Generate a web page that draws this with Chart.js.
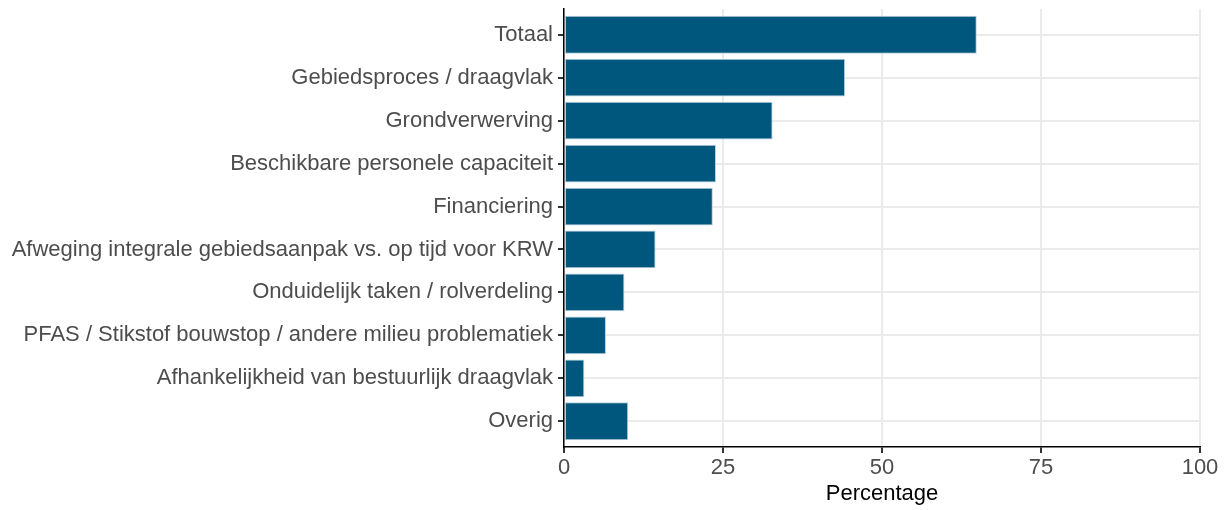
<!DOCTYPE html>
<html>
<head>
<meta charset="utf-8">
<script src="https://cdn.jsdelivr.net/npm/chart.js@4/dist/chart.umd.min.js"></script>
<style>
  body { margin: 0; background: #fff; }
  #wrap { width: 1230px; height: 510px; }
</style>
</head>
<body>
<div id="wrap"><canvas id="myChart" width="1230" height="510"></canvas></div>
<script>
var categories = [
    'Totaal',
    'Gebiedsproces / draagvlak',
    'Grondverwerving',
    'Beschikbare personele capaciteit',
    'Financiering',
    'Afweging integrale gebiedsaanpak vs. op tijd voor KRW',
    'Onduidelijk taken / rolverdeling',
    'PFAS / Stikstof bouwstop / andere milieu problematiek',
    'Afhankelijkheid van bestuurlijk draagvlak',
    'Overig'
];
var percentages = [64.9, 44.2, 32.8, 23.9, 23.4, 14.4, 9.5, 6.6, 3.2, 10.1];
var xTicks = [0, 25, 50, 75, 100];

var points = [];
percentages.forEach((v, i) => {
    points.push({ x: v, y: i });
});

var ctx = document.getElementById('myChart').getContext('2d');
var fontFamily = 'Liberation Sans, Arial, sans-serif';

var chart = new Chart(ctx, {
    type: 'bar',
    data: {
        datasets: [{
            label: 'Percentage',
            data: points,
            backgroundColor: '#00577e',
            borderColor: '#b9d0dd',
            borderWidth: 1,
            borderSkipped: false,
            barPercentage: 0.88,
            categoryPercentage: 1
        }]
    },
    options: {
        indexAxis: 'y',
        responsive: false,
        animation: false,
        layout: { padding: { top: 9, right: 30, left: 0, bottom: 0 } },
        plugins: {
            legend: { display: false },
            tooltip: { enabled: false }
        },
        scales: {
            x: {
                type: 'linear',
                min: 0,
                max: 100,
                afterBuildTicks: (scale) => {
                    scale.ticks = xTicks.map(v => ({ value: v }));
                },
                afterFit: (scale) => {
                    scale.height = 63;
                    scale.paddingLeft = 0;
                    scale.paddingRight = 0;
                },
                grid: {
                    color: '#ebebeb',
                    lineWidth: 2,
                    tickColor: '#333333',
                    tickLength: 6
                },
                border: { display: true, color: '#000000', width: 1.5 },
                ticks: {
                    color: '#4d4d4d',
                    padding: 2,
                    font: { family: fontFamily, size: 22 }
                },
                title: {
                    display: true,
                    text: 'Percentage',
                    color: '#000000',
                    padding: { top: 0, bottom: 3 },
                    font: { family: fontFamily, size: 22 }
                }
            },
            y: {
                type: 'linear',
                min: -0.6,
                max: 9.6,
                reverse: true,
                offset: false,
                afterFit: (scale) => {
                    scale.width = 564;
                    scale.paddingTop = 0;
                    scale.paddingBottom = 0;
                },
                grid: {
                    offset: false,
                    color: '#ebebeb',
                    lineWidth: 2,
                    tickColor: '#333333',
                    tickLength: 6
                },
                border: { display: true, color: '#000000', width: 1.5 },
                ticks: {
                    stepSize: 1,
                    includeBounds: false,
                    autoSkip: false,
                    color: '#4d4d4d',
                    padding: 5,
                    font: { family: fontFamily, size: 22 },
                    callback: (value) => categories[value] !== undefined ? categories[value] : ''
                }
            }
        }
    }
});
</script>
</body>
</html>
